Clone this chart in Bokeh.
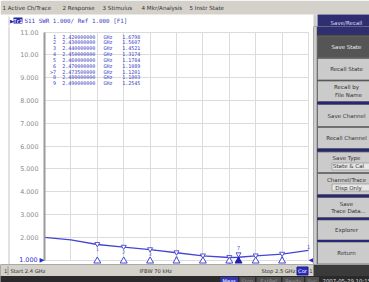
from bokeh.plotting import figure
from bokeh.models import Range1d, FixedTicker, Grid, LinearAxis
from bokeh.layouts import column, row
from bokeh.embed import file_html
from bokeh.resources import INLINE
from bokeh.core.properties import value

# ---------------- data ----------------
x_ticks = [2.40, 2.41, 2.42, 2.43, 2.44, 2.45, 2.46, 2.47, 2.48, 2.49, 2.50]
y_ticks = [1, 2, 3, 4, 5, 6, 7, 8, 9, 10, 11]
y_tick_labels = ["1.000", "2.000", "3.000", "4.000", "5.000", "6.000",
                 "7.000", "8.000", "9.000", "10.00", "11.00"]
ref_value = 1

trace_freq = [2.400, 2.410, 2.420, 2.430, 2.440, 2.450, 2.460, 2.470, 2.4735, 2.480, 2.490, 2.500]
trace_swr = [1.99, 1.88, 1.6798, 1.5607, 1.4521, 1.3174, 1.1784, 1.1089, 1.1201, 1.1803, 1.2545, 1.42]

marker_ids = [1, 2, 3, 4, 5, 6, 7, 8, 9]
marker_freq = [2.42, 2.43, 2.44, 2.45, 2.46, 2.47, 2.4735, 2.48, 2.49]
marker_swr = [1.6798, 1.5607, 1.4521, 1.3174, 1.1784, 1.1089, 1.1201, 1.1803, 1.2545]
active_marker = 7

header_trace = "Tr1"
header_text = "S11 SWR 1.000/ Ref 1.000 [F1]"
menu_items = ["1 Active Ch/Trace", "2 Response", "3 Stimulus", "4 Mkr/Analysis", "5 Instr State"]
softkeys = ["Save/Recall", "Save State", "Recall State", "Recall by\nFile Name", "Save Channel",
            "Recall Channel", "Save Type\nState & Cal", "Channel/Trace\nDisp Only",
            "Save\nTrace Data...", "Explorer", "Return"]
status_left = ["1", "Start 2.4 GHz", "IFBW 70 kHz", "Stop 2.5 GHz"]
status_cor = "Cor"
instr_status = ["Meas", "Stop", "ExtRef", "Ready", "Svc"]
timestamp = "2007-05-29 10:15"

# ---------------- layout constants (page pixels) ----------------
W, H = 369, 282
TOP_H = 26
BOT_Y0 = 264
MID_H = BOT_Y0 - TOP_H
MAIN_W = 313
RIGHT_W = W - MAIN_W
BOT_H = H - BOT_Y0

BLUE = "#4646d2"
TXTBLUE = "#3a3ac4"
MONO = "DejaVu Sans Mono"
SANS = "DejaVu Sans"

# grid geometry: 2.40 GHz at px 44, 0.01 GHz per 26.4 px; SWR 1 at px 259.5, 22.8 px per unit
FX0, PPX, PPU, Y1PX = 44, 2640.0, 22.8, 259.5
X_END = 2.4 + 0.1


def xd(px):
    return 2.4 + (px - FX0) / PPX


def yd(py):
    return 1.0 + (Y1PX - py) / PPU


def chrome(w, h, xr, yr, bg):
    return figure(width=w, height=h, x_range=Range1d(*xr), y_range=Range1d(*yr),
                  x_axis_type=None, y_axis_type=None, title=None, toolbar_location=None,
                  output_backend="svg", min_border=0, outline_line_color=None,
                  background_fill_color=bg, border_fill_color=bg)


# ---------------- main chart (frame spans the whole white area) ----------------
p = figure(width=MAIN_W, height=MID_H, x_range=Range1d(xd(0), xd(MAIN_W)),
           y_range=Range1d(yd(BOT_Y0), yd(TOP_H)),
           x_axis_type=None, y_axis_type=None, title=None, toolbar_location=None, output_backend="svg",
           min_border=0, outline_line_color=None, background_fill_color="white", border_fill_color="white")

# window edge line
p.segment(x0=[xd(8.5)], y0=[yd(TOP_H)], x1=[xd(8.5)], y1=[yd(BOT_Y0)], line_color="#c4c4c4", line_width=1)

axis_common = dict(major_tick_line_color=None, minor_tick_line_color=None, major_tick_out=0,
                   major_tick_in=0, minor_tick_out=0, major_label_text_font=SANS,
                   major_label_text_font_size="6.4px")
yax = LinearAxis(ticker=FixedTicker(ticks=y_ticks), fixed_location=2.4, bounds=(1, 11),
                 major_label_overrides={t: ("" if t == ref_value else lab) for t, lab in zip(y_ticks, y_tick_labels)},
                 major_label_text_color="#8c8c8c", major_label_standoff=6,
                 axis_line_color="#9a9a9a", axis_line_width=2, **axis_common)
p.add_layout(yax, "left")
ref_axis = LinearAxis(ticker=FixedTicker(ticks=[ref_value]), fixed_location=2.4,
                      major_label_overrides={ref_value: y_tick_labels[0] + " \u25B6"},
                      major_label_text_color="#2a2ad0", major_label_standoff=0,
                      axis_line_color=None, **axis_common)
p.add_layout(ref_axis, "left")
ref_axis_r = LinearAxis(ticker=FixedTicker(ticks=[ref_value]), fixed_location=X_END,
                        major_label_overrides={ref_value: "\u25C0"},
                        major_label_text_color="#2a2ad0", major_label_standoff=0,
                        axis_line_color=None, **axis_common)
p.add_layout(ref_axis_r, "right")

p.add_layout(Grid(dimension=1, ticker=FixedTicker(ticks=y_ticks), bounds=(1, 11), cross_bounds=(2.4, X_END),
                  grid_line_color="#dcdcdc"))
p.add_layout(Grid(dimension=0, ticker=FixedTicker(ticks=x_ticks), bounds=(2.4, X_END), cross_bounds=(1, 11),
                  grid_line_color="#dcdcdc"))

p.line(trace_freq, trace_swr, line_color=BLUE, line_width=1.3)
p.text(x=[trace_freq[-1]], y=[trace_swr[-1]], text=["1"], y_offset=-1, text_align="center",
       text_baseline="bottom", text_font=value(MONO), text_font_size="5px", text_color=BLUE)

# marker table
row_y = [yd(36.0 + i * 5.84) for i in range(len(marker_ids))]
num_labels = [(">" if m == active_marker else "") + str(m) for m in marker_ids]
freq_labels = [f"{f:.9f}" for f in marker_freq]
swr_labels = [f"{v:.4f}" for v in marker_swr]
tab_kw = dict(text_font=value(MONO), text_font_size="5px", text_color=TXTBLUE, text_baseline="middle")
n = len(row_y)
p.text(x=[xd(55.5)] * n, y=row_y, text=num_labels, text_align="right", **tab_kw)
p.text(x=[xd(61.7)] * n, y=row_y, text=freq_labels, text_align="left", **tab_kw)
p.text(x=[xd(103.0)] * n, y=row_y, text=["GHz"] * n, text_align="left", **tab_kw)
p.text(x=[xd(121.7)] * n, y=row_y, text=swr_labels, text_align="left", **tab_kw)

# markers on trace
ina = [i for i, m in enumerate(marker_ids) if m != active_marker]
act = [i for i, m in enumerate(marker_ids) if m == active_marker]
p.scatter([marker_freq[i] for i in ina], [marker_swr[i] + 0.5 / PPU for i in ina],
          marker="inverted_triangle", size=5, fill_color="white", line_color=BLUE, line_width=0.9)
p.text([marker_freq[i] for i in ina], [marker_swr[i] for i in ina], text=[str(marker_ids[i]) for i in ina],
       y_offset=4.3, text_align="center", text_baseline="middle", text_font=value(MONO),
       text_font_size="4.6px", text_color=BLUE)
p.scatter([marker_freq[i] for i in act], [marker_swr[i] + 3.0 / PPU for i in act],
          marker="inverted_triangle", size=5, fill_color="white", line_color=BLUE, line_width=0.9)
p.text([marker_freq[i] for i in act], [marker_swr[i] for i in act], text=[str(marker_ids[i]) for i in act],
       y_offset=-9, text_align="center", text_baseline="middle", text_font=value(MONO),
       text_font_size="5px", text_color=BLUE)
# stimulus-axis marker triangles
p.scatter([marker_freq[i] for i in ina], [ref_value - 1.0 / PPU] * len(ina), marker="triangle", size=7,
          fill_color="white", line_color=BLUE, line_width=1)
p.scatter([marker_freq[i] for i in act], [ref_value - 1.0 / PPU] * len(act), marker="triangle", size=7,
          fill_color="#2020b0", line_color="#2020b0", line_width=1)

# ---------------- top menu bar + trace header ----------------
top = chrome(W, TOP_H, (0, W), (TOP_H, 0), "white")
top.quad(left=0, right=W, top=0, bottom=14, fill_color="#d4d1ca", line_color=None)
top.segment(x0=[8.5], y0=[16], x1=[8.5], y1=[TOP_H], line_color="#c4c4c4", line_width=1)
menu_x = [2, 62, 102, 141, 189]
top.text(x=menu_x, y=[7.5] * len(menu_items), text=menu_items, text_align="left", text_baseline="middle",
         text_font=value(SANS), text_font_size="5.6px", text_color="#333333")
top.quad(left=MAIN_W, right=316.3, top=14, bottom=TOP_H, fill_color="#cdcdcd", line_color=None)
top.quad(left=317, right=378, top=14, bottom=TOP_H, fill_color="#2e2e70", line_color=None)
top.text(x=[346], y=[22.6], text=[softkeys[0]], text_align="center", text_baseline="middle",
         text_font=value(SANS), text_font_size="5.5px", text_color="#dcdcf4")
top.text(x=[9.5], y=[20], text=["\u25B6"], text_align="left", text_baseline="middle",
         text_font=value(SANS), text_font_size="5px", text_color="#2020b0")
top.quad(left=13, right=22, top=17, bottom=23, fill_color="#2424a8", line_color=None)
top.text(x=[17.5], y=[20.2], text=[header_trace], text_align="center", text_baseline="middle",
         text_font=value(MONO), text_font_size="5px", text_font_style="bold", text_color="white")
top.text(x=[24], y=[20.2], text=[header_text], text_align="left", text_baseline="middle",
         text_font=value(MONO), text_font_size="5.9px", text_color=TXTBLUE)

# ---------------- right soft-key panel ----------------
rp = chrome(RIGHT_W, MID_H, (MAIN_W, W), (BOT_Y0, TOP_H), "#3c3c3c")
rp.quad(left=MAIN_W, right=316.3, top=TOP_H, bottom=BOT_Y0, fill_color="#cdcdcd", line_color=None)
key_top = [14.0, 35.5, 58.0, 80.5, 104.0, 127.0, 151.5, 173.0, 197.0, 219.5, 241.5]
key_bot = [34.0, 57.0, 79.5, 101.0, 126.0, 148.0, 172.0, 194.0, 217.0, 239.5, 263.5]
key_fill = ["#2e2e70", "#555555"] + ["#cbcbcb"] * 9
key_txt = ["#dcdcf4", "#f0f0f0"] + ["#333333"] * 9
key_line = [None] + ["#6a6a6a"] * 10
rp.quad(left=317, right=378, top=key_top, bottom=key_bot, fill_color=key_fill, line_color=key_line,
        line_width=0.8)
sep_top = [101.3, 148.3, 194.3, 217.3, 239.6]
sep_bot = [103.7, 150.7, 196.7, 219.3, 241.4]
rp.quad(left=317, right=378, top=sep_top, bottom=sep_bot, fill_color="#27277a", line_color=None)
rp.quad(left=[331.5, 331.5], right=[378, 378], top=[162.5, 183.5], bottom=[169.5, 190.5],
        fill_color="#e6e6e6", line_color="#8a8a8a", line_width=0.6)
kx, ky, kt, kc = [], [], [], []
for lab, t, b, c in list(zip(softkeys, key_top, key_bot, key_txt))[1:]:
    parts = lab.split("\n")
    mid = (t + b) / 2
    if len(parts) == 1:
        kx.append(346); ky.append(mid); kt.append(parts[0]); kc.append(c)
    else:
        kx += [346, 348]; ky += [mid - 3.8, mid + 3.8]; kt += parts; kc += [c, c]
rp.text(x=kx, y=ky, text=kt, text_color=kc, text_align="center", text_baseline="middle",
        text_font=value(SANS), text_font_size="5.5px")

# ---------------- bottom status bars ----------------
bt = chrome(W, BOT_H, (0, W), (H, BOT_Y0), "#3a3a3a")
bt.quad(left=0, right=MAIN_W, top=BOT_Y0, bottom=275.5, fill_color="#d4d1ca", line_color=None)
bt.segment(x0=[7.5], y0=[266], x1=[7.5], y1=[274.5], line_color="#8a8a8a", line_width=0.8)
status_x = [3.5, 10, 139, 261]
bt.text(x=status_x, y=[270.5] * 4, text=status_left, text_align="left", text_baseline="middle",
        text_font=value(SANS), text_font_size="5.2px", text_color="#303030")
bt.quad(left=296.5, right=307.5, top=266.5, bottom=274.5, fill_color="#2c2cc0", line_color="#1a1a80")
bt.text(x=[302], y=[270.5], text=[status_cor], text_align="center", text_baseline="middle",
        text_font=value(SANS), text_font_size="5.2px", text_color="white")
bt.text(x=[310.5], y=[270.5], text=["1"], text_align="center", text_baseline="middle",
        text_font=value(SANS), text_font_size="5.2px", text_color="#303030")
bt.quad(left=0, right=W, top=275.5, bottom=H, fill_color="#2a2a2a", line_color=None)
ist_l = [220, 239, 256, 282, 305]
ist_r = [237.5, 254.5, 280.5, 303.5, 318.5]
ist_fill = ["#3434b4"] + ["#505050"] * 4
ist_col = ["white"] + ["#8c8c8c"] * 4
bt.quad(left=ist_l, right=ist_r, top=276.5, bottom=H + 1, fill_color=ist_fill, line_color=None)
bt.text(x=[(a + b) / 2 for a, b in zip(ist_l, ist_r)], y=[280] * 5, text=instr_status, text_color=ist_col,
        text_align="center", text_baseline="middle", text_font=value(SANS), text_font_size="5.2px")
bt.text(x=[322], y=[280], text=[timestamp], text_align="left", text_baseline="middle",
        text_font=value(SANS), text_font_size="5.4px", text_color="#d8d8d8")

layout = column(top, row(p, rp, spacing=0), bt, spacing=0)
open("out.html", "w").write(file_html(layout, INLINE))
